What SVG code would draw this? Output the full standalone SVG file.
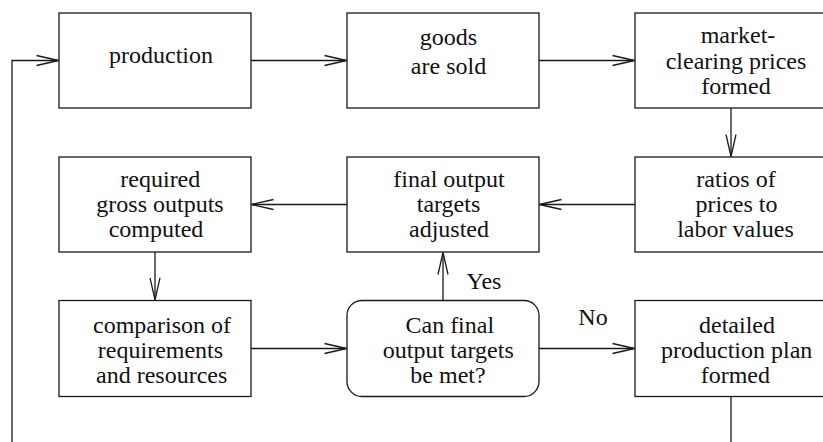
<svg xmlns="http://www.w3.org/2000/svg" width="823" height="442" viewBox="0 0 823 442" font-family="Liberation Serif, serif">
<style>
.box{fill:#fff;stroke:#1a1a1a;stroke-width:1.3}
.t{font-family:"Liberation Serif",serif;font-size:24px;fill:#111;text-anchor:middle}
.c{fill:none;stroke:#1a1a1a;stroke-width:1.3}
</style>
<defs>
<marker id="arr" markerUnits="userSpaceOnUse" markerWidth="30" markerHeight="14" viewBox="-24 -7 26 14" refX="0" refY="0" orient="auto">
<path d="M-22,-5 L0,0 L-22,5" fill="none" stroke="#1a1a1a" stroke-width="1.3"/>
</marker>
</defs>
<rect width="823" height="442" fill="#fff"/>
<g id="connectors">
<path class="c" d="M251,60.5 H346.5" marker-end="url(#arr)"/>
<path class="c" d="M539,60.5 H634.5" marker-end="url(#arr)"/>
<path class="c" d="M731,108 V156.5" marker-end="url(#arr)"/>
<path class="c" d="M635,204.5 H539.5" marker-end="url(#arr)"/>
<path class="c" d="M347,204.5 H251.5" marker-end="url(#arr)"/>
<path class="c" d="M155,252 V299.8" marker-end="url(#arr)"/>
<path class="c" d="M251,348.5 H346.5" marker-end="url(#arr)"/>
<path class="c" d="M539,348.5 H634.5" marker-end="url(#arr)"/>
<path class="c" d="M443,300.5 V252.5" marker-end="url(#arr)"/>
<path class="c" d="M731,396.5 V470 H12 V60.5 H58.5" marker-end="url(#arr)"/>
<text class="t" x="484" y="288.5">Yes</text>
<text class="t" x="593" y="324.5">No</text>
</g>
<g id="production">
<rect class="box" x="59" y="13" width="192" height="95"/>
<text class="t" x="161" y="63">production</text>
</g>
<g id="goods">
<rect class="box" x="347" y="13" width="192" height="95"/>
<text class="t" x="448.5" y="45">goods</text>
<text class="t" x="448.5" y="74">are sold</text>
</g>
<g id="market">
<rect class="box" x="635" y="13" width="192" height="95"/>
<text class="t" x="738" y="42.5">market-</text>
<text class="t" x="736" y="68.5">clearing prices</text>
<text class="t" x="736" y="93.5">formed</text>
</g>
<g id="ratios">
<rect class="box" x="635" y="157" width="192" height="95"/>
<text class="t" x="736" y="186.7">ratios of</text>
<text class="t" x="736.5" y="211.7">prices to</text>
<text class="t" x="735.5" y="237">labor values</text>
</g>
<g id="final">
<rect class="box" x="347" y="157" width="192" height="95"/>
<text class="t" x="449" y="186.7">final output</text>
<text class="t" x="448.5" y="211.7">targets</text>
<text class="t" x="449" y="237">adjusted</text>
</g>
<g id="required">
<rect class="box" x="59" y="157" width="192" height="95"/>
<text class="t" x="160.3" y="186.7">required</text>
<text class="t" x="160" y="211.7">gross outputs</text>
<text class="t" x="156" y="237">computed</text>
</g>
<g id="comparison">
<rect class="box" x="59" y="300.5" width="192" height="96"/>
<text class="t" x="162" y="332.7">comparison of</text>
<text class="t" x="160.5" y="358">requirements</text>
<text class="t" x="161.7" y="383.3">and resources</text>
</g>
<g id="decision">
<rect class="box" x="347" y="300.5" width="192" height="96" rx="15" ry="15"/>
<text class="t" x="449.8" y="332.7">Can final</text>
<text class="t" x="448.3" y="358">output targets</text>
<text class="t" x="448" y="383.3">be met?</text>
</g>
<g id="detailed">
<rect class="box" x="635" y="300.5" width="192" height="96"/>
<text class="t" x="737" y="332.7">detailed</text>
<text class="t" x="736.7" y="358">production plan</text>
<text class="t" x="735.3" y="383.3">formed</text>
</g>
</svg>
